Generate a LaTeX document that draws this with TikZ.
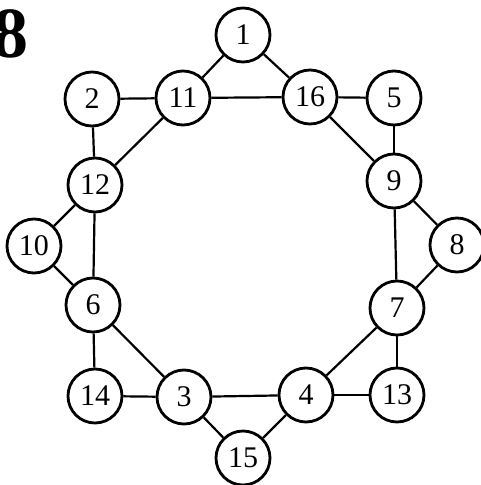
\documentclass[tikz,border=0pt]{standalone}
\usepackage{fontspec}
\setmainfont{Liberation Serif}
\begin{document}
\begin{tikzpicture}[x=1pt,y=-1pt,
  vtx/.style={circle,draw,fill=white,line width=2.8pt,minimum size=54pt,inner sep=0pt,font=\fontsize{30}{32}\selectfont},
  edge/.style={line width=2.2pt},
  figlabel/.style={inner sep=0pt,font=\fontsize{72}{78}\selectfont\bfseries}]
\useasboundingbox (0,0) rectangle (480,485);
\node[figlabel,anchor=base east] (fig) at (29,57) {8};
\node[vtx] (n1)  at (243,35) {1};
\node[vtx] (n2)  at (92,99) {2};
\node[vtx] (n11) at (183,98) {11};
\node[vtx] (n16) at (310,97) {16};
\node[vtx] (n5)  at (394,98) {5};
\node[vtx] (n12) at (95,185) {12};
\node[vtx] (n9)  at (394,181) {9};
\node[vtx] (n10) at (34,246) {10};
\node[vtx] (n8)  at (457,245) {8};
\node[vtx] (n6)  at (93,305) {6};
\node[vtx] (n7)  at (397,308) {7};
\node[vtx] (n14) at (95,396) {14};
\node[vtx] (n3)  at (184,397) {3};
\node[vtx] (n4)  at (306,395) {4};
\node[vtx] (n13) at (397,395) {13};
\node[vtx] (n15) at (243,458) {15};
\foreach \a/\b in {n1/n11,n1/n16,n2/n11,n11/n16,n16/n5,n2/n12,n11/n12,n16/n9,n5/n9,
  n12/n10,n12/n6,n9/n8,n9/n7,n10/n6,n8/n7,n7/n4,n7/n13,n6/n14,n6/n3,n14/n3,n3/n4,n4/n13,n3/n15,n4/n15}
  \draw[edge] (\a) -- (\b);
\end{tikzpicture}
\end{document}
